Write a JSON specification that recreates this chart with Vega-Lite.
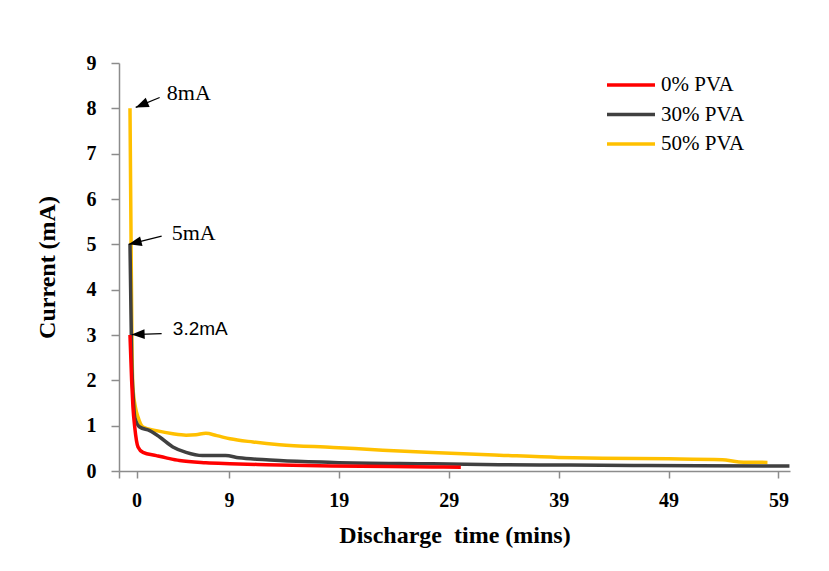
{
  "$schema": "https://vega.github.io/schema/vega-lite/v6.json",
  "width": 671,
  "height": 408,
  "autosize": {"type": "none"},
  "padding": {"left": 119, "top": 63, "right": 39, "bottom": 100},
  "background": "white",
  "config": {
    "view": {"stroke": null},
    "axis": {
      "grid": false,
      "domainColor": "#8c8c8c",
      "tickColor": "#8c8c8c",
      "domainWidth": 1.5,
      "tickWidth": 1.5,
      "labelFont": "Liberation Serif",
      "labelFontWeight": "bold",
      "labelFontSize": 20,
      "labelColor": "black",
      "titleFont": "Liberation Serif",
      "titleFontWeight": "bold",
      "titleFontSize": 24,
      "titleColor": "black"
    }
  },
  "datasets": {
    "series": [
      {"sample": "50% PVA", "time": 0, "current": 8.0},
      {"sample": "50% PVA", "time": 0.1, "current": 5.0},
      {"sample": "50% PVA", "time": 0.18, "current": 2.8},
      {"sample": "50% PVA", "time": 0.27, "current": 1.85},
      {"sample": "50% PVA", "time": 0.5, "current": 1.4},
      {"sample": "50% PVA", "time": 0.73, "current": 1.19},
      {"sample": "50% PVA", "time": 1.18, "current": 0.97},
      {"sample": "50% PVA", "time": 2.4, "current": 0.89},
      {"sample": "50% PVA", "time": 3.9, "current": 0.82},
      {"sample": "50% PVA", "time": 5.1, "current": 0.79},
      {"sample": "50% PVA", "time": 6.0, "current": 0.8},
      {"sample": "50% PVA", "time": 6.9, "current": 0.83},
      {"sample": "50% PVA", "time": 7.9, "current": 0.78},
      {"sample": "50% PVA", "time": 9.1, "current": 0.71},
      {"sample": "50% PVA", "time": 11.2, "current": 0.64},
      {"sample": "50% PVA", "time": 13.6, "current": 0.58},
      {"sample": "50% PVA", "time": 18.5, "current": 0.52},
      {"sample": "50% PVA", "time": 23, "current": 0.46},
      {"sample": "50% PVA", "time": 27.5, "current": 0.41},
      {"sample": "50% PVA", "time": 33.6, "current": 0.35},
      {"sample": "50% PVA", "time": 39, "current": 0.3},
      {"sample": "50% PVA", "time": 43, "current": 0.28},
      {"sample": "50% PVA", "time": 49, "current": 0.27},
      {"sample": "50% PVA", "time": 53.9, "current": 0.25},
      {"sample": "50% PVA", "time": 55.4, "current": 0.2},
      {"sample": "50% PVA", "time": 58, "current": 0.19},
      {"sample": "30% PVA", "time": 0, "current": 5.0},
      {"sample": "30% PVA", "time": 0.15, "current": 2.5},
      {"sample": "30% PVA", "time": 0.3, "current": 1.6},
      {"sample": "30% PVA", "time": 0.43, "current": 1.19},
      {"sample": "30% PVA", "time": 0.88, "current": 0.97},
      {"sample": "30% PVA", "time": 1.79, "current": 0.89},
      {"sample": "30% PVA", "time": 2.7, "current": 0.75},
      {"sample": "30% PVA", "time": 3.9, "current": 0.53},
      {"sample": "30% PVA", "time": 5.1, "current": 0.41},
      {"sample": "30% PVA", "time": 6.6, "current": 0.34},
      {"sample": "30% PVA", "time": 8.7, "current": 0.34},
      {"sample": "30% PVA", "time": 9.9, "current": 0.29},
      {"sample": "30% PVA", "time": 12.4, "current": 0.25},
      {"sample": "30% PVA", "time": 13.6, "current": 0.23},
      {"sample": "30% PVA", "time": 18.5, "current": 0.19},
      {"sample": "30% PVA", "time": 27.5, "current": 0.16},
      {"sample": "30% PVA", "time": 33.6, "current": 0.14},
      {"sample": "30% PVA", "time": 40, "current": 0.13},
      {"sample": "30% PVA", "time": 47, "current": 0.12},
      {"sample": "30% PVA", "time": 60, "current": 0.11},
      {"sample": "0% PVA", "time": 0, "current": 3.0},
      {"sample": "0% PVA", "time": 0.15, "current": 2.0},
      {"sample": "0% PVA", "time": 0.27, "current": 1.41},
      {"sample": "0% PVA", "time": 0.43, "current": 0.97},
      {"sample": "0% PVA", "time": 0.73, "current": 0.53},
      {"sample": "0% PVA", "time": 1.18, "current": 0.41},
      {"sample": "0% PVA", "time": 2.4, "current": 0.34},
      {"sample": "0% PVA", "time": 3.3, "current": 0.29},
      {"sample": "0% PVA", "time": 4.5, "current": 0.23},
      {"sample": "0% PVA", "time": 6.9, "current": 0.18},
      {"sample": "0% PVA", "time": 9.1, "current": 0.16},
      {"sample": "0% PVA", "time": 12.4, "current": 0.14},
      {"sample": "0% PVA", "time": 18.4, "current": 0.11},
      {"sample": "0% PVA", "time": 27.5, "current": 0.09},
      {"sample": "0% PVA", "time": 30.1, "current": 0.08}
    ],
    "notes": [
      {"label": "8mA", "serif": true, "tx": 3.35, "ty": 8.33, "ax": 2.7, "ay": 8.24, "hx": 0.52, "hy": 8.02, "angle": 247},
      {"label": "5mA", "serif": true, "tx": 3.8, "ty": 5.24, "ax": 2.88, "ay": 5.18, "hx": -0.12, "hy": 5.0, "angle": 256},
      {"label": "3.2mA", "serif": false, "tx": 3.9, "ty": 3.14, "ax": 2.88, "ay": 3.03, "hx": 0.15, "hy": 3.01, "angle": 268}
    ]
  },
  "layer": [
    {
      "data": {"name": "series"},
      "mark": {"type": "line", "interpolate": "monotone"},
      "encoding": {
        "x": {
          "field": "time", "type": "quantitative",
          "scale": {"domain": [-1, 60.05], "nice": false, "zero": false},
          "axis": {
            "title": "Discharge\u00a0 time (mins)",
            "values": [-1, 0.6, 9, 19, 29, 39, 49, 59],
            "labelExpr": "datum.value < 0 ? '' : (datum.value < 1 ? '0' : datum.label)",
            "tickSize": 7,
            "labelPadding": 12,
            "titlePadding": 13
          }
        },
        "y": {
          "field": "current", "type": "quantitative",
          "scale": {"domain": [0, 9], "nice": false},
          "axis": {
            "title": "Current (mA)",
            "values": [0, 1, 2, 3, 4, 5, 6, 7, 8, 9],
            "tickSize": 8,
            "labelPadding": 15,
            "titlePadding": 27
          }
        },
        "color": {
          "field": "sample", "type": "nominal",
          "scale": {"domain": ["0% PVA", "30% PVA", "50% PVA"], "range": ["#FF0000", "#404040", "#FFC000"]},
          "legend": {
            "title": null,
            "orient": "none",
            "legendX": 486,
            "legendY": 12,
            "padding": 0,
            "symbolType": "stroke",
            "symbolSize": 2304,
            "clipHeight": 20,
            "rowPadding": 8.5,
            "labelOffset": 4,
            "labelFont": "Liberation Serif",
            "labelFontSize": 21,
            "labelColor": "black"
          }
        },
        "strokeWidth": {
          "field": "sample", "type": "nominal",
          "scale": {"domain": ["0% PVA", "30% PVA", "50% PVA"], "range": [3.5, 3.5, 2]}
        }
      }
    },
    {
      "data": {"name": "notes"},
      "mark": {"type": "rule", "color": "black", "strokeWidth": 1.2},
      "encoding": {
        "x": {"field": "ax", "type": "quantitative"},
        "y": {"field": "ay", "type": "quantitative"},
        "x2": {"field": "hx"},
        "y2": {"field": "hy"}
      }
    },
    {
      "data": {"name": "notes"},
      "mark": {"type": "point", "shape": "M0,0L-0.38,1L0.38,1Z", "filled": true, "color": "black", "opacity": 1, "size": 676},
      "encoding": {
        "x": {"field": "hx", "type": "quantitative"},
        "y": {"field": "hy", "type": "quantitative"},
        "angle": {"field": "angle", "type": "quantitative", "scale": null}
      }
    },
    {
      "data": {"name": "notes"},
      "transform": [{"filter": "datum.serif"}],
      "mark": {"type": "text", "align": "left", "baseline": "middle", "font": "Liberation Serif", "fontSize": 22, "color": "black"},
      "encoding": {
        "x": {"field": "tx", "type": "quantitative"},
        "y": {"field": "ty", "type": "quantitative"},
        "text": {"field": "label"}
      }
    },
    {
      "data": {"name": "notes"},
      "transform": [{"filter": "!datum.serif"}],
      "mark": {"type": "text", "align": "left", "baseline": "middle", "font": "Liberation Sans", "fontSize": 19, "color": "black"},
      "encoding": {
        "x": {"field": "tx", "type": "quantitative"},
        "y": {"field": "ty", "type": "quantitative"},
        "text": {"field": "label"}
      }
    }
  ]
}
